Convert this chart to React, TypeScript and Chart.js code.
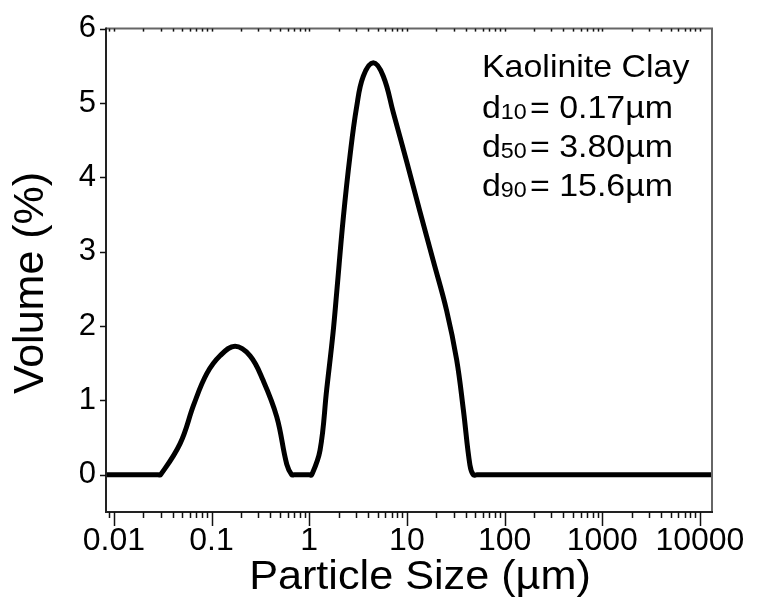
import { useEffect, useRef } from 'react';
import { Chart, registerables } from 'chart.js';

Chart.register(...registerables);

// ---- data ----
const particleSizes = [0.0083, 0.0285, 0.03, 0.0476, 0.066, 0.0893, 0.122, 0.174, 0.248, 0.337, 0.465, 0.589, 0.662, 0.7, 1.0, 1.06, 1.29, 1.51, 1.75, 1.91, 2.23, 2.62, 3.06, 3.58, 4.53, 5.73, 7.26, 9.95, 13.6, 18.6, 25.5, 32.3, 37.8, 44.2, 47.8, 52, 13300];
const volumePercent = [0, 0, 0, 0.42, 0.95, 1.36, 1.6, 1.73, 1.6, 1.27, 0.78, 0.14, 0, 0, 0, 0, 0.33, 1.15, 1.9, 2.45, 3.45, 4.3, 4.95, 5.36, 5.54, 5.36, 4.87, 4.21, 3.54, 2.88, 2.21, 1.55, 0.88, 0.13, 0, 0, 0];

const xMin = 0.0083;
const xMax = 13300;
const yMin = -0.5;
const yMax = 6;

const sampleName = 'Kaolinite Clay';
const statSubscripts = ['10', '50', '90'];
const statValues = ['0.17µm', '3.80µm', '15.6µm'];

const xTitle = 'Particle Size (µm)';
const yTitle = 'Volume (%)';

const FONT = '"Liberation Sans", Arial, sans-serif';

function isDecadeMultiple(v: number) {
  const e = Math.floor(Math.log10(v) + 1e-9);
  const m = v / Math.pow(10, e);
  return { ok: Math.abs(m - Math.round(m)) < 1e-6, major: Math.round(m) === 1 || Math.round(m) === 10 };
}

const framePlugin = {
  id: 'frameAndTicks',
  afterDatasetsDraw(chart: any) {
    const { ctx, chartArea: a } = chart;
    const xs = chart.scales.x;
    const ys = chart.scales.y;
    ctx.save();
    ctx.lineWidth = 2;
    ctx.strokeStyle = '#666';
    ctx.beginPath();
    ctx.moveTo(a.left, a.top);
    ctx.lineTo(a.right, a.top);
    ctx.lineTo(a.right, a.bottom);
    ctx.stroke();
    ctx.strokeStyle = '#222';
    ctx.beginPath();
    ctx.moveTo(a.left, a.top - 1);
    ctx.lineTo(a.left, a.bottom);
    ctx.lineTo(a.right + 1, a.bottom);
    ctx.stroke();
    ctx.lineWidth = 1.5;
    ctx.strokeStyle = '#111';
    for (const t of xs.ticks) {
      const r = isDecadeMultiple(t.value);
      if (!r.ok) continue;
      const px = Math.round(xs.getPixelForValue(t.value)) + 0.5;
      if (px < a.left + 1 || px > a.right - 1) continue;
      ctx.beginPath();
      ctx.moveTo(px, a.bottom);
      ctx.lineTo(px, a.bottom + (r.major ? 14 : 6));
      ctx.stroke();
      ctx.beginPath();
      ctx.moveTo(px, a.top);
      ctx.lineTo(px, a.top + 3);
      ctx.stroke();
    }
    for (const t of ys.ticks) {
      if (Math.abs(t.value - Math.round(t.value)) > 1e-6) continue;
      const py = Math.round(ys.getPixelForValue(t.value)) + 0.5;
      ctx.beginPath();
      ctx.moveTo(a.left - 6, py);
      ctx.lineTo(a.left, py);
      ctx.stroke();
    }
    ctx.restore();
  },
  afterDraw(chart: any) {
    const { ctx } = chart;
    ctx.save();
    ctx.fillStyle = '#000';
    // x axis title (slightly widened like the reference)
    ctx.save();
    ctx.translate(420, 578);
    ctx.scale(1.08, 1);
    ctx.font = `40px ${FONT}`;
    ctx.textAlign = 'center';
    ctx.textBaseline = 'middle';
    ctx.fillText(xTitle, 0, 0);
    ctx.restore();
    // y axis title
    ctx.save();
    ctx.translate(31, 283);
    ctx.rotate(-Math.PI / 2);
    ctx.font = `43px ${FONT}`;
    ctx.textAlign = 'center';
    ctx.textBaseline = 'middle';
    ctx.fillText(yTitle, 0, 0);
    ctx.restore();
    // annotation
    ctx.save();
    ctx.translate(482, 0);
    ctx.scale(1.06, 1);
    ctx.textAlign = 'left';
    ctx.textBaseline = 'alphabetic';
    const main = `32px ${FONT}`;
    const sub = `22px ${FONT}`;
    ctx.font = main;
    ctx.fillText(sampleName, 0, 77);
    statSubscripts.forEach((s, i) => {
      const y = 118 + i * 39;
      let x = 0;
      ctx.font = main;
      ctx.fillText('d', x, y);
      x += ctx.measureText('d').width;
      ctx.font = sub;
      ctx.fillText(s, x, y + 1);
      x += ctx.measureText(s).width + 3;
      ctx.font = main;
      ctx.fillText('= ' + statValues[i], x, y);
    });
    ctx.restore();
    ctx.restore();
  },
};

export default function App() {
  const ref = useRef<HTMLCanvasElement>(null);
  useEffect(() => {
    if (!ref.current) return;
    const chart = new Chart(ref.current, {
      type: 'line',
      data: {
        datasets: [
          {
            data: particleSizes.map((x, i) => ({ x, y: volumePercent[i] })),
            borderColor: '#000',
            borderWidth: 5,
            pointRadius: 0,
            tension: 0.4,
            fill: false,
          },
        ],
      },
      options: {
        animation: false,
        responsive: false,
        events: [],
        layout: { padding: { top: 22, right: 66, left: 0, bottom: 0 } },
        plugins: { legend: { display: false }, tooltip: { enabled: false } },
        scales: {
          x: {
            type: 'logarithmic',
            min: xMin,
            max: xMax,
            grid: { display: false, drawTicks: false },
            border: { display: false },
            afterFit: (s: any) => {
              s.height = 90;
            },
            ticks: {
              autoSkip: false,
              maxRotation: 0,
              padding: 10,
              color: '#000',
              font: { family: FONT, size: 32 },
              callback: (v: any) => {
                const n = Number(v);
                const l = Math.log10(n);
                if (Math.abs(l - Math.round(l)) > 1e-9) return '';
                if (n < 0.0099 || n > 10001) return '';
                return n >= 1 ? String(Math.round(n)) : String(Number(n.toPrecision(1)));
              },
            },
          },
          y: {
            type: 'linear',
            min: yMin,
            max: yMax,
            grid: { display: false, drawTicks: false },
            border: { display: false },
            afterFit: (s: any) => {
              s.width = 106;
            },
            ticks: {
              stepSize: 1,
              padding: 10,
              color: '#000',
              font: { family: FONT, size: 31 },
              callback: (v: any) => {
                const n = Number(v);
                return Math.abs(n - Math.round(n)) < 1e-6 ? String(Math.round(n)) : '';
              },
            },
          },
        },
      },
      plugins: [framePlugin],
    } as any);
    return () => chart.destroy();
  }, []);
  return (
    <canvas
      ref={ref}
      width={778}
      height={602}
      style={{ position: 'absolute', left: 0, top: 0, width: 778, height: 602, background: '#fff' }}
    />
  );
}
